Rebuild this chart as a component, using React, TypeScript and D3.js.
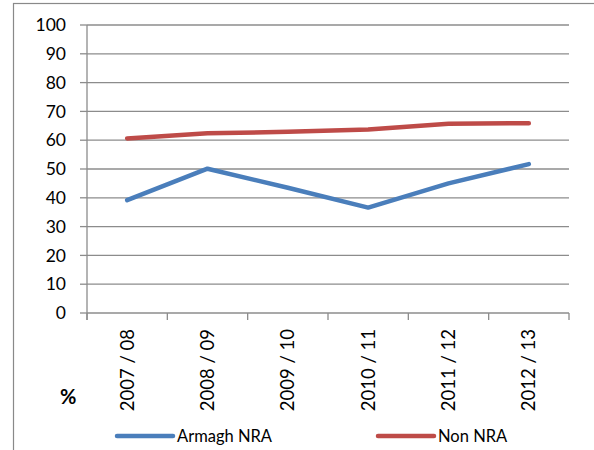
import React from "react";
import * as d3 from "d3";

const categories = ["2007 / 08", "2008 / 09", "2009 / 10", "2010 / 11", "2011 / 12", "2012 / 13"];
const armaghNRA = [39.2, 50.1, 43.5, 36.6, 45.0, 51.7];
const nonNRA = [60.6, 62.4, 62.9, 63.7, 65.7, 65.9];
const yTicks = [0, 10, 20, 30, 40, 50, 60, 70, 80, 90, 100];
const seriesNames = ["Armagh NRA", "Non NRA"];
const seriesColors = ["#4a7ebb", "#be4b48"];

const W = 594, H = 450;
const left = 87, right = 569, top = 25, bottom = 313;
const FONT = "Lato, 'Open Sans', sans-serif";

export default function App() {
  const x = d3.scaleBand<string>().domain(categories).range([left, right]);
  const y = d3.scaleLinear().domain([0, 100]).range([bottom, top]);
  const line = d3.line<number>()
    .x((_, i) => (x(categories[i]) as number) + x.bandwidth() / 2)
    .y((d) => y(d));
  const series = [armaghNRA, nonNRA];
  const tickXs = categories.map((c) => x(c) as number).concat([right]);
  const legendX = [117, 378];

  return (
    <svg width={W} height={H} style={{ position: "absolute", left: 0, top: 0, background: "#fff" }} fontFamily={FONT}>
      <rect x={13.5} y={3.5} width={W} height={H} fill="#fff" stroke="#898989" strokeWidth={1.2} />
      {yTicks.map((t) => (
        <g key={t}>
          {t > 0 && <line x1={left} x2={right} y1={y(t)} y2={y(t)} stroke="#8c8c8c" strokeWidth={1.3} />}
          <line x1={80} x2={left} y1={y(t)} y2={y(t)} stroke="#8c8c8c" strokeWidth={1.3} />
          <text x={66} y={y(t)} dy="0.35em" textAnchor="end" fontSize={17.5} fill="#000">{t}</text>
        </g>
      ))}
      <line x1={left} x2={left} y1={top} y2={bottom + 7} stroke="#8c8c8c" strokeWidth={1.3} />
      <line x1={left} x2={right} y1={bottom} y2={bottom} stroke="#8c8c8c" strokeWidth={1.3} />
      {tickXs.map((tx, i) => (
        <line key={i} x1={tx} x2={tx} y1={bottom} y2={bottom + 7} stroke="#8c8c8c" strokeWidth={1.3} />
      ))}
      {categories.map((c) => {
        const cx = (x(c) as number) + x.bandwidth() / 2;
        return (
          <text key={c} transform={`translate(${cx},329) rotate(-90)`} textAnchor="end" dy="0.35em" fontSize={18.5} fill="#000">{c}</text>
        );
      })}
      <text x={60} y={404} fontSize={20} fontWeight="bold" fill="#000">%</text>
      {series.map((s, i) => (
        <path key={i} d={line(s) || ""} fill="none" stroke={seriesColors[i]} strokeWidth={4.5} strokeLinecap="round" strokeLinejoin="round" />
      ))}
      {seriesNames.map((n, i) => (
        <g key={n}>
          <line x1={legendX[i]} x2={legendX[i] + 56} y1={436} y2={436} stroke={seriesColors[i]} strokeWidth={4.5} strokeLinecap="round" />
          <text x={legendX[i] + 60} y={436} dy="0.35em" fontSize={16.5} fill="#000">{n}</text>
        </g>
      ))}
    </svg>
  );
}
